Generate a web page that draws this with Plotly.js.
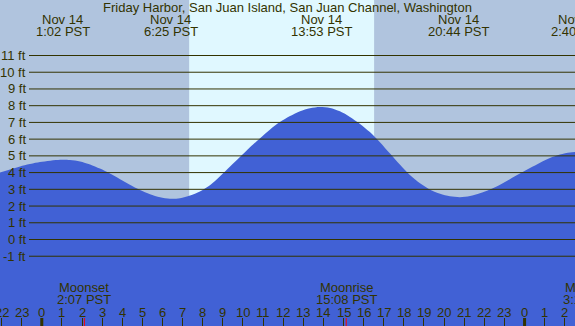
<!DOCTYPE html>
<html><head><meta charset="utf-8">
<script src="https://cdn.plot.ly/plotly-3.0.1.min.js"></script>
<style>html,body{margin:0;padding:0;overflow:hidden;background:#B0C4DE}#chart{width:575px;height:326px}</style>
</head><body><div id="chart"></div>
<script>
// ---- data ----
const stationTitle = 'Friday Harbor, San Juan Island, San Juan Channel, Washington';
// hours since midnight Nov 14 (PST) and tide height in feet
const tideHours = [-2.08,-1.08,-0.09,0.91,1.40,1.90,2.40,2.89,3.39,3.89,4.38,4.88,5.38,5.88,6.37,6.87,7.37,7.86,8.36,8.86,9.36,9.85,10.35,10.85,11.35,11.84,12.34,12.84,13.33,13.83,14.33,14.82,15.32,15.82,16.31,16.81,17.31,17.81,18.30,18.80,19.30,19.80,20.29,20.79,21.29,21.78,22.28,22.78,23.27,23.77,24.27,24.77,25.26,25.76,26.26,26.51];
const tideFeet  = [4.00,4.37,4.63,4.77,4.76,4.67,4.49,4.24,3.94,3.60,3.27,2.96,2.71,2.53,2.44,2.47,2.63,2.87,3.24,3.78,4.37,4.93,5.52,6.06,6.58,7.02,7.38,7.67,7.85,7.92,7.86,7.66,7.33,6.91,6.42,5.82,5.14,4.47,3.86,3.36,2.98,2.73,2.58,2.53,2.60,2.76,2.99,3.27,3.60,3.94,4.27,4.59,4.87,5.08,5.20,5.23];
const extremeHours = [1.033, 6.417, 13.883, 20.733, 26.667];
const extremeDates = ['Nov 14','Nov 14','Nov 14','Nov 14','Nov 15'];
const extremeTimes = ['1:02 PST','6:25 PST','13:53 PST','20:44 PST','2:40 PST'];
const moonHours  = [2.117, 15.133, 27.267];
const moonEvents = ['Moonset','Moonrise','Moonset'];
const moonTimes  = ['2:07 PST','15:08 PST','3:16 PST'];
const sunriseHour = 7.325;
const sunsetHour  = 16.52;
const hourTicks  = [-2,-1,0,1,2,3,4,5,6,7,8,9,10,11,12,13,14,15,16,17,18,19,20,21,22,23,24,25,26];
const hourLabels = ['22','23','0','1','2','3','4','5','6','7','8','9','10','11','12','13','14','15','16','17','18','19','20','21','22','23','0','1','2'];
const midnightHours = [0, 24];
const footTicks  = [-1,0,1,2,3,4,5,6,7,8,9,10,11];
const footLabels = ['-1 ft','0 ft','1 ft','2 ft','3 ft','4 ft','5 ft','6 ft','7 ft','8 ft','9 ft','10 ft','11 ft'];

// ---- styling ----
const W = 575, H = 326;
const X_RANGE = [-2.078, 26.507];
const Y_RANGE = [-5.171, 14.318];
const INK = '#333300';
const FONT = {family: 'Liberation Sans, Arial, sans-serif', size: 13, color: INK};
const py = p => 1 - p / H;
// place edge-crossing labels in paper units on the same linear x scale
const xPos = h => ({xref: 'paper', x: (h - X_RANGE[0]) / (X_RANGE[1] - X_RANGE[0])});

const traces = [
  {x: tideHours, y: tideHours.map(() => Y_RANGE[0] - 1), mode: 'lines',
   line: {width: 0, color: '#4161D5'}, hoverinfo: 'skip', showlegend: false},
  {x: tideHours, y: tideFeet, mode: 'lines', fill: 'tonexty', fillcolor: '#4161D5',
   line: {width: 0, color: '#4161D5', shape: 'spline', smoothing: 0.8},
   hoverinfo: 'skip', showlegend: false}
];

const shapes = [];
shapes.push({type: 'rect', layer: 'below', xref: 'x', yref: 'paper',
  x0: sunriseHour, x1: sunsetHour, y0: 0, y1: 1, fillcolor: '#E0F8FF', line: {width: 0}});
footTicks.forEach(f => shapes.push({type: 'line', layer: 'above', xref: 'paper', yref: 'y',
  x0: 29 / W, x1: 1, y0: f, y1: f, line: {color: INK, width: 1}}));
midnightHours.forEach(h => shapes.push({type: 'line', layer: 'above', xref: 'x', yref: 'paper',
  x0: h, x1: h, y0: 0, y1: 8 / H, line: {color: INK, width: 3}}));
moonHours.forEach(h => shapes.push({type: 'line', layer: 'above', xref: 'x', yref: 'paper',
  x0: h, x1: h, y0: 0, y1: 8 / H, line: {color: '#FF0000', width: 1}}));

const annotations = [];
const ann = (pos, yPix, text, xanchor) => annotations.push(Object.assign({
  yref: 'paper', y: py(yPix), yanchor: 'middle', xanchor: xanchor || 'center',
  text: text, showarrow: false, font: FONT, borderpad: 0}, pos));
footTicks.forEach((f, i) => annotations.push({xref: 'paper', x: 27 / W, xanchor: 'right',
  yref: 'y', y: f, yanchor: 'middle', text: footLabels[i], showarrow: false, font: FONT, borderpad: 0}));
hourTicks.forEach((h, i) => ann(xPos(h), 312.2, hourLabels[i]));
extremeHours.forEach((h, i) => { ann(xPos(h), 19.2, extremeDates[i]); ann(xPos(h), 31.3, extremeTimes[i]); });
moonHours.forEach((h, i) => { ann(xPos(h), 287.2, moonEvents[i]); ann(xPos(h), 299.5, moonTimes[i]); });

const layout = {
  width: W, height: H, margin: {l: 0, r: 0, t: 0, b: 0, pad: 0},
  paper_bgcolor: '#B0C4DE', plot_bgcolor: '#B0C4DE',
  title: {text: stationTitle, font: FONT, x: 0.5, xanchor: 'center', xref: 'paper',
          y: py(7.5), yanchor: 'middle', yref: 'container', pad: {t: 0, b: 0, l: 0, r: 0}},
  xaxis: {range: X_RANGE, showgrid: false, zeroline: false, showline: false,
          ticks: 'inside', ticklen: 8, tickwidth: 1, tickcolor: INK,
          tickmode: 'array', tickvals: hourTicks, showticklabels: false, fixedrange: true},
  yaxis: {range: Y_RANGE, showgrid: false, zeroline: false, showline: false,
          showticklabels: false, ticks: '', fixedrange: true},
  shapes: shapes, annotations: annotations, showlegend: false, hovermode: false
};
Plotly.newPlot('chart', traces, layout, {displayModeBar: false, staticPlot: true});
</script></body></html>
